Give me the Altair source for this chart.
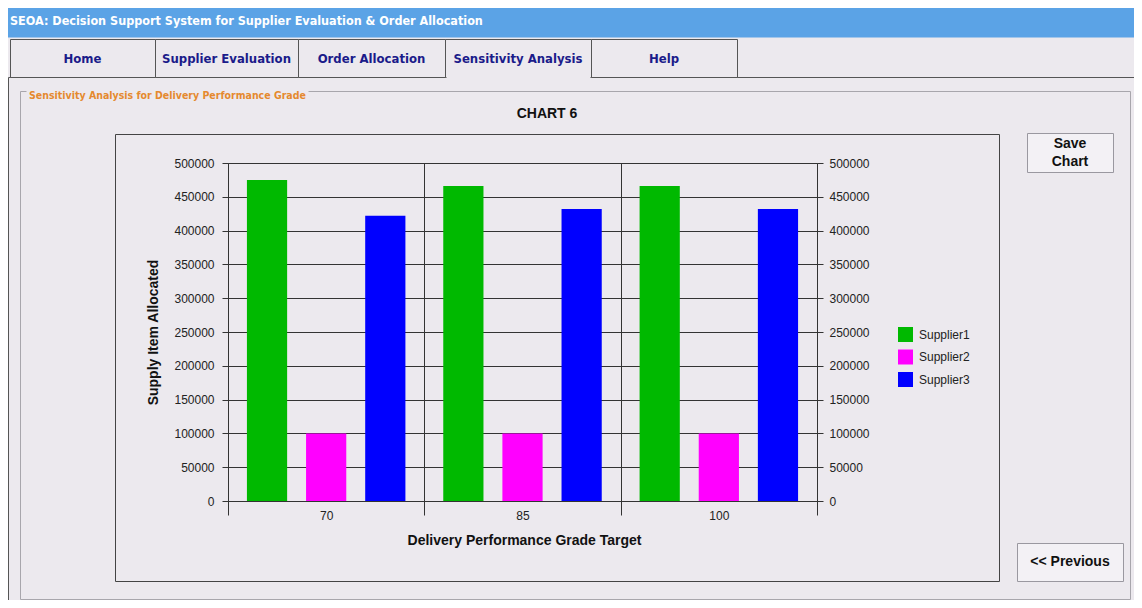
import altair as alt
import pandas as pd

# ---------------- data ----------------
targets = ["70", "85", "100"]
suppliers = ["Supplier1", "Supplier2", "Supplier3"]
supplier1 = [475000, 466000, 466000]
supplier2 = [100000, 100000, 100000]
supplier3 = [422000, 432000, 432000]
colors = ["#00B900", "#FF00FF", "#0000FF"]
y_ticks = [0, 50000, 100000, 150000, 200000, 250000, 300000, 350000, 400000, 450000, 500000]

tabs = ["Home", "Supplier Evaluation", "Order Allocation", "Sensitivity Analysis", "Help"]
window_title = "SEOA: Decision Support System for Supplier Evaluation & Order Allocation"
group_title = "Sensitivity Analysis for Delivery Performance Grade"
chart_title = "CHART 6"
x_title = "Delivery Performance Grade Target"
y_title = "Supply Item Allocated"

rows = []
for i, t in enumerate(targets):
    for s, vals in zip(suppliers, [supplier1, supplier2, supplier3]):
        rows.append({"target": t, "supplier": s, "value": vals[i]})
df = pd.DataFrame(rows)

# ---------------- layout ----------------
W, H = 589, 338
OX, OY = 228, 163           # page position of the plot origin
PAD_L, PAD_T = OX - 8, OY - 8
TOTAL_W, TOTAL_H = 1126, 592
BG = "#ECE9EE"
LINE = "#333333"
FONT = "Liberation Sans"
NARROW = "Liberation Sans Narrow, Arial Narrow, DejaVu Sans Condensed, Liberation Sans, sans-serif"

one = alt.Data(values=[{"k": 1}])


def deco_rect(x1, y1, x2, y2, fill=None, stroke=None, sw=1.0):
    props = {}
    if fill is not None:
        props["fill"] = fill
    else:
        props["fillOpacity"] = 0
    if stroke is not None:
        props["stroke"] = stroke
        props["strokeWidth"] = sw
    return alt.Chart(one).mark_rect(**props).encode(
        x=alt.value(x1 - OX + 0.5), x2=alt.value(x2 - OX + 0.5),
        y=alt.value(y1 - OY + 0.5), y2=alt.value(y2 - OY + 0.5))


def deco_text(s, x, y, size=12, weight="normal", color="#000000", font=FONT, align="left"):
    return alt.Chart(one).mark_text(
        text=s, align=align, baseline="middle", font=font, fontSize=size,
        fontWeight=weight, color=color).encode(x=alt.value(x - OX), y=alt.value(y - OY))


decos = []
# window title bar
decos.append(deco_rect(0, 7, 1142, 37, fill="#5BA3E6"))
decos.append(deco_text(window_title, 10, 21, size=12.5, weight="bold", color="#FFFFFF", font=NARROW))
# outer panel
decos.append(deco_rect(8, 77, 1136, 606, stroke="#555555"))
# tabs
tab_edges = [10, 155, 298, 445, 591, 737]
for i, name in enumerate(tabs):
    x1, x2 = tab_edges[i], tab_edges[i + 1]
    decos.append(deco_rect(x1, 39, x2, 77, fill=BG, stroke="#555555"))
    decos.append(deco_text(name, (x1 + x2) / 2, 59, size=13, weight="bold",
                           color="#1B1B8A", font=NARROW, align="center"))
# selected tab opens into the panel
decos.append(deco_rect(446, 76, 590, 78, fill=BG))
# group box
decos.append(deco_rect(20, 91, 1130, 599, stroke="#A8A6AC"))
decos.append(deco_rect(26, 86, 308, 97, fill=BG))
decos.append(deco_text(group_title, 29, 96, size=10.5, weight="bold", color="#E5892E", font=NARROW))
# chart frame
decos.append(deco_rect(115, 134, 999, 581, stroke="#444444"))
decos.append(deco_text(chart_title, 547, 114, size=14, weight="bold", color="#111111", align="center"))
# buttons
decos.append(deco_rect(1027, 133, 1113, 172, fill="#F3F1F5", stroke="#9A98A0"))
decos.append(deco_text("Save", 1070, 144, size=14, weight="bold", color="#111111", align="center"))
decos.append(deco_text("Chart", 1070, 162, size=14, weight="bold", color="#111111", align="center"))
decos.append(deco_rect(1017, 543, 1123, 581, fill="#F3F1F5", stroke="#9A98A0"))
decos.append(deco_text("<< Previous", 1070, 562, size=14, weight="bold", color="#111111", align="center"))

# ---------------- chart ----------------
x_enc = alt.X(
    "target:N", sort=targets,
    scale=alt.Scale(paddingInner=0, paddingOuter=0),
    axis=alt.Axis(
        title=x_title, tickBand="extent", grid=True, gridColor=LINE, gridWidth=1,
        tickSize=14, tickColor=LINE, domain=False, labelAngle=0, labelPadding=-5,
        labelFont=FONT, labelFontSize=12, labelColor="#222222",
        titleFont=FONT, titleFontSize=14, titleFontWeight="bold", titleColor="#111111",
        titleX=296, titleY=39, titleBaseline="middle"))
xo_enc = alt.XOffset("supplier:N", sort=suppliers,
                     scale=alt.Scale(paddingInner=0.32, paddingOuter=0.32))

bars = alt.Chart(df).mark_bar().encode(
    x=x_enc,
    xOffset=xo_enc,
    y=alt.Y("value:Q", scale=alt.Scale(domain=[0, 500000], nice=False),
            axis=alt.Axis(values=y_ticks, format="d", title=y_title, grid=True,
                          gridColor=LINE, gridWidth=1, tickSize=6, tickColor=LINE,
                          domainColor=LINE, labelPadding=8, labelFont=FONT,
                          labelFontSize=12, labelColor="#222222",
                          titleFont=FONT, titleFontSize=14, titleFontWeight="bold",
                          titleColor="#111111", titleX=-75, titleY=169,
                          titleBaseline="middle", titleAlign="center")),
    color=alt.Color("supplier:N", sort=suppliers,
                    scale=alt.Scale(domain=suppliers, range=colors),
                    legend=alt.Legend(title=None, orient="none", legendX=670, legendY=164,
                                      symbolType="square", symbolSize=225,
                                      symbolStrokeWidth=0, rowPadding=7.5,
                                      labelFont=FONT, labelFontSize=12, labelColor="#222222",
                                      labelOffset=6, padding=0)),
)

right_axis = alt.Chart(df).mark_bar(opacity=0).encode(
    x=x_enc,
    xOffset=xo_enc,
    y=alt.Y("value:Q", scale=alt.Scale(domain=[0, 500000], nice=False),
            axis=alt.Axis(orient="right", values=y_ticks, format="d", title=None, grid=False,
                          tickSize=6, tickColor=LINE, domainColor=LINE, labelPadding=6,
                          labelFont=FONT, labelFontSize=12, labelColor="#222222")),
)

chart = alt.layer(*decos, bars, right_axis).resolve_scale(y="independent").properties(
    width=W, height=H,
    autosize=alt.AutoSizeParams(type="none"),
    padding={"left": PAD_L, "top": PAD_T,
             "right": TOTAL_W - PAD_L - W, "bottom": TOTAL_H - PAD_T - H},
).configure(background=BG).configure_view(strokeWidth=0)

chart.save("out.html", embed_options={"renderer": "svg", "actions": False})
